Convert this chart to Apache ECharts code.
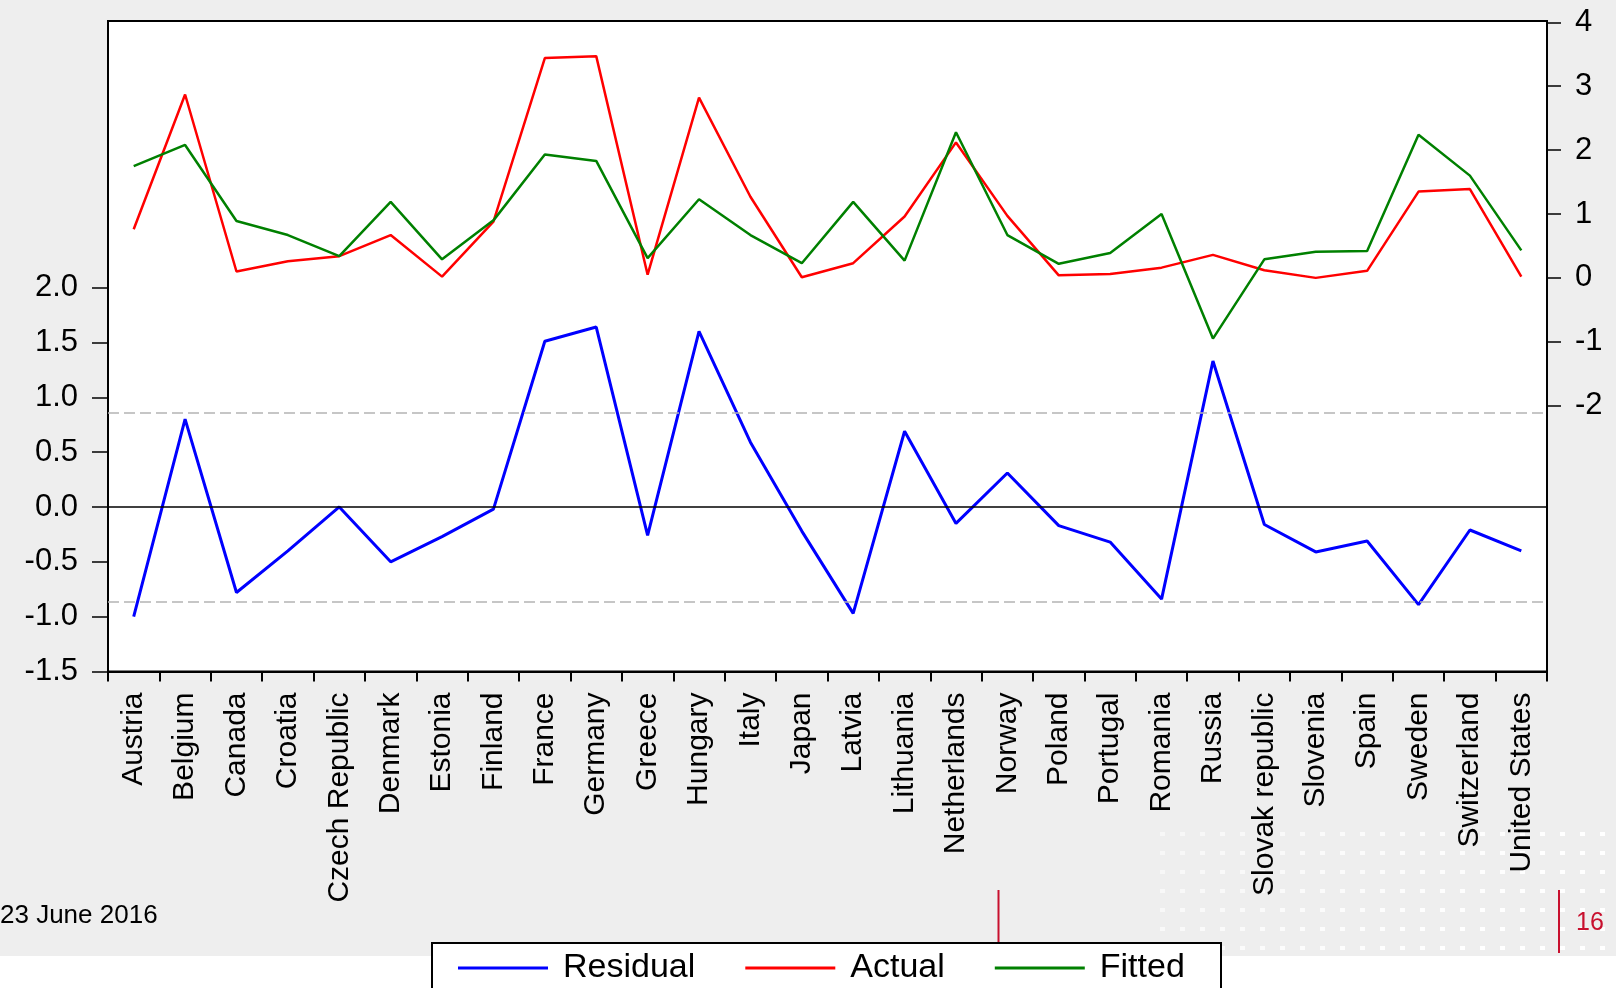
<!DOCTYPE html>
<html>
<head>
<meta charset="utf-8">
<title>Residual, Actual and Fitted</title>
<script src="https://cdn.jsdelivr.net/npm/echarts@6/dist/echarts.min.js"></script>
<style>
  html, body { margin: 0; padding: 0; background: #ffffff; }
  #chart {
    width: 1616px;
    height: 988px;
    background: linear-gradient(#eeeeee 0, #eeeeee 956px, #ffffff 956px);
  }
</style>
</head>
<body>
<div id="chart"></div>
<script>
// Countries on the horizontal axis
const countries = [
  'Austria', 'Belgium', 'Canada', 'Croatia', 'Czech Republic', 'Denmark',
  'Estonia', 'Finland', 'France', 'Germany', 'Greece', 'Hungary', 'Italy',
  'Japan', 'Latvia', 'Lithuania', 'Netherlands', 'Norway', 'Poland',
  'Portugal', 'Romania', 'Russia', 'Slovak republic', 'Slovenia', 'Spain',
  'Sweden', 'Switzerland', 'United States'
];

// Regression residuals (left scale)
const residual = [
  -1.00, 0.80, -0.78, -0.40, 0.00, -0.50, -0.27, -0.02, 1.51, 1.64, -0.26,
  1.60, 0.59, -0.22, -0.97, 0.69, -0.15, 0.31, -0.17, -0.32, -0.84, 1.33,
  -0.16, -0.41, -0.31, -0.89, -0.21, -0.40
];

// Actual values of the dependent variable (right scale)
const actual = [
  0.76, 2.87, 0.10, 0.26, 0.34, 0.67, 0.02, 0.88, 3.44, 3.47, 0.05,
  2.82, 1.27, 0.01, 0.23, 0.96, 2.12, 0.97, 0.04, 0.06, 0.16, 0.36,
  0.12, 0.00, 0.11, 1.35, 1.39, 0.02
];

// Fitted values from the regression (right scale)
const fitted = [
  1.75, 2.08, 0.89, 0.67, 0.34, 1.19, 0.29, 0.90, 1.93, 1.83, 0.31,
  1.23, 0.67, 0.23, 1.19, 0.27, 2.28, 0.67, 0.22, 0.39, 1.00, -0.95,
  0.29, 0.41, 0.42, 2.24, 1.60, 0.43
];

// Tick labels
const residualTicks = [-1.5, -1.0, -0.5, 0.0, 0.5, 1.0, 1.5, 2.0];
const levelTicks = [-2, -1, 0, 1, 2, 3, 4];

// One standard error band around the residuals
const residualBand = 0.86;

const seriesNames = ['Residual', 'Actual', 'Fitted'];
const footerDate = '23 June 2016';
const pageNumber = '16';

const FONT = '"Liberation Sans", Arial, Helvetica, sans-serif';
const CRIMSON = '#c8102e';

// Dotted footer decoration
const dots = [];
for (let row = 0; row < 7; row++) {
  for (let col = 0; col < 23; col++) {
    const x = 1160 + col * 20;
    const y = 832 + row * 19;
    dots.push({
      type: 'rect',
      silent: true,
      z: -10,
      shape: { x: x, y: y, width: 5, height: 4 },
      style: { fill: '#ffffff', opacity: Math.min(1, 0.5 + 0.5 * (col / 22) + 0.15 * (row / 6)) }
    });
  }
}

const chart = echarts.init(document.getElementById('chart'), null, { renderer: 'canvas' });

chart.setOption({
  backgroundColor: 'transparent',
  animation: false,
  grid: {
    left: 108,
    right: 69,
    top: 21,
    bottom: 316.5,
    show: true,
    backgroundColor: '#ffffff',
    borderColor: '#000000',
    borderWidth: 2
  },
  legend: {
    data: seriesNames,
    left: 453,
    top: 946,
    z: 20,
    icon: 'rect',
    itemWidth: 90,
    itemHeight: 3,
    itemGap: 50,
    textStyle: {
      fontFamily: FONT,
      fontSize: 34,
      lineHeight: 34,
      color: '#000000',
      padding: [0, 0, 0, 10]
    }
  },
  xAxis: {
    type: 'category',
    data: countries,
    boundaryGap: true,
    axisLine: { show: true, onZero: false, lineStyle: { color: '#000000', width: 2 } },
    axisTick: { show: true, interval: 0, length: 10, lineStyle: { color: '#000000', width: 2 } },
    axisLabel: {
      interval: 0,
      rotate: 90,
      margin: 21,
      fontFamily: FONT,
      fontSize: 30,
      color: '#000000'
    },
    splitLine: { show: false }
  },
  yAxis: [
    {
      type: 'value',
      position: 'left',
      min: -1.5,
      max: 4.43,
      axisLine: { show: true, lineStyle: { color: '#000000', width: 2 } },
      axisTick: {
        show: true,
        customValues: residualTicks,
        length: 16,
        lineStyle: { color: '#000000', width: 1.5 }
      },
      axisLabel: {
        customValues: residualTicks,
        formatter: function (v) { return v.toFixed(1); },
        margin: 30,
        fontFamily: FONT,
        fontSize: 31,
        color: '#000000'
      },
      splitLine: { show: false }
    },
    {
      type: 'value',
      position: 'right',
      min: -6.16,
      max: 4.02,
      axisLine: { show: true, lineStyle: { color: '#000000', width: 2 } },
      axisTick: {
        show: true,
        customValues: levelTicks,
        length: 14,
        lineStyle: { color: '#000000', width: 1.5 }
      },
      axisLabel: {
        customValues: levelTicks,
        formatter: function (v) { return String(v); },
        margin: 28,
        fontFamily: FONT,
        fontSize: 31,
        color: '#000000'
      },
      splitLine: { show: false }
    }
  ],
  series: [
    {
      name: seriesNames[0],
      type: 'line',
      yAxisIndex: 0,
      data: residual,
      symbol: 'none',
      z: 3,
      itemStyle: { color: '#0000ff' },
      lineStyle: { color: '#0000ff', width: 3 },
      markLine: {
        silent: true,
        symbol: ['none', 'none'],
        label: { show: false },
        data: [
          { yAxis: 0, lineStyle: { color: '#000000', type: 'solid', width: 1.5 } },
          { yAxis: residualBand, lineStyle: { color: '#b4b4b4', type: [11, 5], width: 1.5 } },
          { yAxis: -residualBand, lineStyle: { color: '#b4b4b4', type: [11, 5], width: 1.5 } }
        ]
      }
    },
    {
      name: seriesNames[1],
      type: 'line',
      yAxisIndex: 1,
      data: actual,
      symbol: 'none',
      z: 4,
      itemStyle: { color: '#ff0000' },
      lineStyle: { color: '#ff0000', width: 2.5 }
    },
    {
      name: seriesNames[2],
      type: 'line',
      yAxisIndex: 1,
      data: fitted,
      symbol: 'none',
      z: 5,
      itemStyle: { color: '#008000' },
      lineStyle: { color: '#008000', width: 2.5 }
    }
  ],
  graphic: {
    elements: dots.concat([
      {
        type: 'text',
        silent: true,
        style: {
          text: footerDate,
          x: 0,
          y: 916,
          verticalAlign: 'middle',
          font: '26px ' + FONT,
          fill: '#000000'
        }
      },
      {
        type: 'line',
        silent: true,
        shape: { x1: 998.5, y1: 890, x2: 998.5, y2: 943 },
        style: { stroke: CRIMSON, lineWidth: 2 }
      },
      {
        type: 'line',
        silent: true,
        shape: { x1: 1559, y1: 890, x2: 1559, y2: 953 },
        style: { stroke: CRIMSON, lineWidth: 2 }
      },
      {
        type: 'text',
        silent: true,
        style: {
          text: pageNumber,
          x: 1576,
          y: 923,
          verticalAlign: 'middle',
          font: '25px ' + FONT,
          fill: CRIMSON
        }
      },
      {
        type: 'rect',
        silent: true,
        z: 15,
        shape: { x: 432, y: 943, width: 789, height: 70 },
        style: { fill: '#ffffff', stroke: '#000000', lineWidth: 2 }
      }
    ])
  }
});
</script>
</body>
</html>
